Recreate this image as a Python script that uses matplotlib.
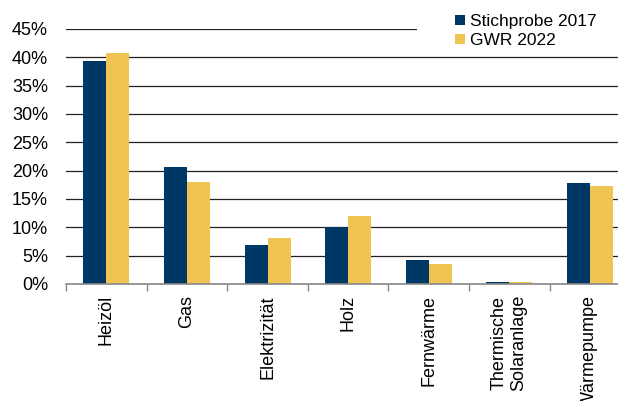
import numpy as np
import matplotlib
matplotlib.use("Agg")
import matplotlib.pyplot as plt
from matplotlib.patches import Rectangle
from matplotlib.ticker import FixedLocator, PercentFormatter

# data (share in %)
categories = ["Heizöl", "Gas", "Elektrizität", "Holz", "Fernwärme",
              "Thermische\nSolaranlage", "Wärmepumpe"]
stichprobe_2017 = [39.4, 20.6, 6.8, 10.1, 4.2, 0.25, 17.8]
gwr_2022 = [40.7, 17.9, 8.1, 11.9, 3.6, 0.25, 17.3]
series_names = ["Stichprobe 2017", "GWR 2022"]

navy = "#003865"
gold = "#F0C453"

plt.rcParams["font.family"] = ["Liberation Sans", "DejaVu Sans"]
plt.rcParams["font.size"] = 13

fig = plt.figure(figsize=(6.18, 4.01), dpi=100)
ax = fig.add_axes([0.107, 0.292, 0.893, 0.636])

x = np.arange(len(categories))
w = 0.285
ax.bar(x - w / 2, stichprobe_2017, w, color=navy, label=series_names[0], zorder=2)
ax.bar(x + w / 2, gwr_2022, w, color=gold, label=series_names[1], zorder=2)

ax.set_ylim(0, 45)
ax.set_yticks(np.arange(0, 46, 5))
ax.yaxis.set_major_formatter(PercentFormatter(decimals=0))
ax.set_xlim(-0.5, 6.35)

# gridlines
ax.set_axisbelow(True)
ax.yaxis.grid(True, color="#222222", linewidth=0.9)

# category labels + boundary ticks
ax.set_xticks(x)
ax.set_xticklabels(categories, rotation=90, va="top", ha="center")
ax.xaxis.set_minor_locator(FixedLocator(np.arange(-0.5, 7, 1)))
ax.tick_params(axis="x", which="major", length=0, pad=8)
ax.tick_params(axis="x", which="minor", length=5, color="#888888", width=1)
ax.tick_params(axis="y", length=0, pad=13)
for lbl in ax.get_xticklabels():
    lbl.set_multialignment("center")

for s in ["top", "right", "left"]:
    ax.spines[s].set_visible(False)
ax.spines["bottom"].set_color("#888888")
ax.spines["bottom"].set_linewidth(1.2)
ax.spines["bottom"].set_zorder(3)

# white box behind legend hides the top gridline
ax.add_patch(Rectangle((417 / 618, 1 - 50 / 401), 1, 50 / 401,
                       transform=fig.transFigure, facecolor="white",
                       edgecolor="none", zorder=1, clip_on=False))

fig.legend(loc="upper left", bbox_to_anchor=(455 / 618, 1 - 14 / 401),
           frameon=False, handlelength=0.55, handleheight=0.55,
           handletextpad=0.3, labelspacing=0.25, borderaxespad=0,
           borderpad=0, fontsize=12.5)

fig.savefig("out.png", dpi=100)
